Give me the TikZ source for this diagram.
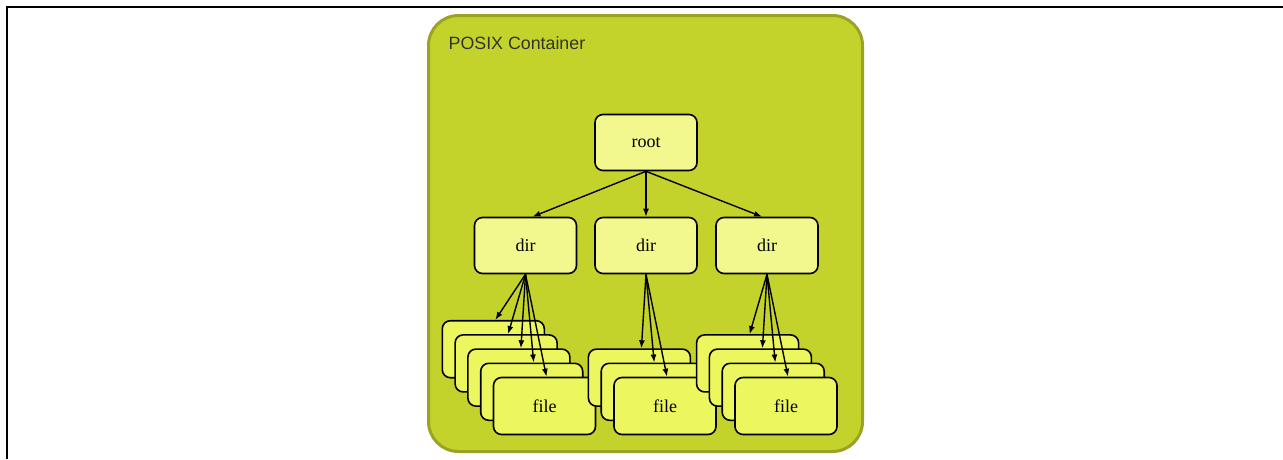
\documentclass[tikz,border=0pt]{standalone}
\usepackage{fontspec}
\setmainfont{Liberation Serif}
\newfontfamily\labelfont{Liberation Sans}
\usetikzlibrary{arrows.meta, positioning}
\definecolor{containerfill}{RGB}{195,211,44}
\definecolor{containerline}{RGB}{156,162,36}
\definecolor{boxfill}{RGB}{242,247,142}
\definecolor{filefill}{RGB}{236,247,96}
\tikzset{%
  >={Latex[width=6pt,length=8pt]},
  % Specifications for style of nodes:
	base/.style = {draw, rounded corners=8pt, line width=1.6pt, align=center,
                   minimum width=102pt, minimum height=56pt,
                   font=\fontsize{18}{21}\selectfont},
	dirbox/.style = {base, fill=boxfill},
	filebox/.style = {base, fill=filefill, minimum height=57pt},
	container/.style = {draw=containerline, fill=containerfill, line width=3pt,
                        rounded corners=30pt, minimum width=434pt, minimum height=436pt},
	norm/.style={->, draw, black, line width=1.4pt},
}

\begin{document}
\begin{tikzpicture}[
    x=1pt, y=-1pt,               % one unit per pixel, top-down
node distance=103pt and 120.5pt, % Global setup of box spacing
on grid,
]
  \useasboundingbox (0,0) rectangle (1283,459);
  % page frame, top and left only
  \draw [line width=2.5pt] (1283,7) -- (7,7) -- (7,459);

  % Specification of nodes (position, etc.)
  \node (posix) [container] at (645.5,233.5) {};
  \node (title) [anchor=base west, inner sep=0pt, text=black!80,
                 font=\labelfont\fontsize{17.8}{20}\selectfont]
        at ([xshift=21.5pt, yshift=-35.5pt]posix.north west) {POSIX Container};

  \node (root) [dirbox] at (646,142.5) {root};
  \node (dm) [dirbox, below=of root] {dir};
  \node (dl) [dirbox, left=of dm] {dir};
  \node (dr) [dirbox, right=121pt of dm] {dir};

  % stacks of files, back to front
  \foreach \d/\n in {dl/4, dm/2, dr/3}
    \foreach \k in {\n,...,0}
      \node (\d\k) [filebox] at ([shift={(19-\k*12.8, 160.5-\k*14.2)}]\d)
            {\ifnum\k=0 file\fi};

  \draw [norm] (root.south) -- ([xshift=7pt]dl.north);
  \draw [norm] (root.south) -- (dm.north);
  \draw [norm] (root.south) -- ([xshift=-5pt]dr.north);

  \foreach \d/\n in {dl/4, dm/2, dr/3}
    \foreach \k in {0,...,\n}
      \draw [norm] (\d.south) -- ([xshift=2pt]\d\k.north);

\end{tikzpicture}
\end{document}
